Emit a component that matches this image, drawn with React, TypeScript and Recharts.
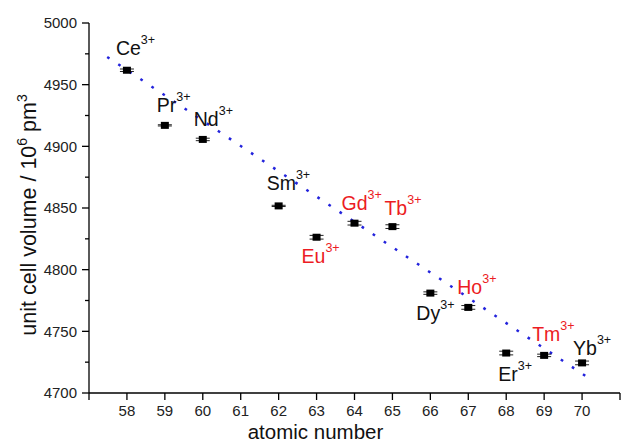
import React from "react";
import { ComposedChart, XAxis, YAxis, Scatter, Line, ErrorBar, Label } from "recharts";

// ---- data ----
const atomicNumbers = [58, 59, 60, 62, 63, 64, 65, 66, 67, 68, 69, 70];
const ions = ["Ce", "Pr", "Nd", "Sm", "Eu", "Gd", "Tb", "Dy", "Ho", "Er", "Tm", "Yb"];
const volumes = [4961.7, 4917.0, 4905.6, 4851.7, 4826.3, 4837.7, 4834.9, 4781.0, 4769.4, 4732.4, 4730.5, 4724.4];
const volumeErrors = [1.0, 0.5, 1.0, 0.5, 1.5, 1.5, 1.5, 1.0, 1.5, 1.5, 1.0, 1.5];
const fitAtomic = [57.48, 70.17];
const fitVolume = [4972.5, 4712.2];
const xTicks = [57, 58, 59, 60, 61, 62, 63, 64, 65, 66, 67, 68, 69, 70, 71];
const yTicks = [4700, 4725, 4750, 4775, 4800, 4825, 4850, 4875, 4900, 4925, 4950, 4975, 5000];
const redIons = ["Eu", "Gd", "Tb", "Ho", "Tm"];

// ---- label placement (layout only) ----
const labelOffsets: Record<string, [number, number]> = {
  Ce: [-11, -15],
  Pr: [-8, -13],
  Nd: [-9, -13],
  Sm: [-12, -16],
  Eu: [-15, 26],
  Gd: [-13, -13],
  Tb: [-8, -12],
  Dy: [-14, 27],
  Ho: [-11, -13],
  Er: [-8, 28],
  Tm: [-12, -14],
  Yb: [-9, -8],
};

const pointData = atomicNumbers.map((a, i) => ({
  atomic: a,
  volume: volumes[i],
  error: volumeErrors[i],
  ion: ions[i],
}));
const fitData = fitAtomic.map((a, i) => ({ atomic: a, volume: fitVolume[i] }));

const FONT = "'Liberation Sans', Arial, sans-serif";
const TICK_SIZE = 7;
const TICK_MARGIN = 5;

const YTick = (props: any) => {
  const { x, y, payload } = props;
  const v = payload.value;
  const major = v % 50 === 0;
  const axisX = x + TICK_SIZE + TICK_MARGIN;
  const len = major ? 7 : 4;
  return (
    <g>
      <line x1={axisX - len} x2={axisX} y1={y} y2={y} stroke="#000" strokeWidth={1.3} />
      {major && (
        <text x={x} y={y} dy="0.355em" textAnchor="end" fontSize={15} fill="#222" fontFamily={FONT}>
          {v}
        </text>
      )}
    </g>
  );
};

const PointShape = (props: any) => {
  const { cx, cy, payload } = props;
  if (cx == null || cy == null) return null;
  const ion = payload.ion as string;
  const [dx, dy] = labelOffsets[ion] || [0, 0];
  const color = redIons.includes(ion) ? "#ec1c24" : "#111";
  return (
    <g>
      <rect x={cx - 4} y={cy - 3.5} width={8} height={7} fill="#000" />
      <text x={cx + dx} y={cy + dy} fontSize={19.5} fill={color} fontFamily={FONT}>
        {ion}
        <tspan dy={-11} fontSize={12.5}>3+</tspan>
      </text>
    </g>
  );
};

const XTitle = (props: any) => {
  const vb = props.viewBox || { x: 89, y: 393, width: 531, height: 30 };
  return (
    <text x={vb.x + 226.5} y={vb.y + 46} textAnchor="middle" fontSize={20.5} fill="#111" fontFamily={FONT}>
      atomic number
    </text>
  );
};

const YTitle = (props: any) => {
  const vb = props.viewBox || { x: 29, y: 23, width: 60, height: 370 };
  const cx = vb.x + 7;
  const cy = vb.y + vb.height / 2 + 7;
  return (
    <text
      x={cx}
      y={cy}
      textAnchor="middle"
      fontSize={21.5}
      fill="#111"
      fontFamily={FONT}
      transform={`rotate(-90, ${cx}, ${cy})`}
    >
      unit cell volume / 10
      <tspan dy={-9} fontSize={14}>6</tspan>
      <tspan dy={9}> pm</tspan>
      <tspan dy={-9} fontSize={14}>3</tspan>
    </text>
  );
};

export default function App() {
  return (
    <div style={{ position: "absolute", left: 0, top: 0, width: 621, height: 442, background: "#fff", fontFamily: FONT }}>
      <ComposedChart width={621} height={442} margin={{ top: 23, right: 1, bottom: 19, left: 29 }}>
        <XAxis
          type="number"
          dataKey="atomic"
          domain={[57, 71]}
          ticks={xTicks}
          interval={0}
          allowDataOverflow
          height={30}
          tickSize={TICK_SIZE}
          tickMargin={TICK_MARGIN}
          axisLine={{ stroke: "#000", strokeWidth: 1.3 }}
          tickLine={{ stroke: "#000", strokeWidth: 1.3 }}
          tick={{ fontSize: 15, fill: "#222", fontFamily: FONT }}
          tickFormatter={(v: number) => (v === 57 || v === 71 ? "" : String(v))}
        >
          <Label content={XTitle} />
        </XAxis>
        <YAxis
          type="number"
          domain={[4700, 5000]}
          ticks={yTicks}
          interval={0}
          allowDataOverflow
          width={60}
          tickSize={TICK_SIZE}
          tickMargin={TICK_MARGIN}
          axisLine={{ stroke: "#000", strokeWidth: 1.3 }}
          tickLine={false}
          tick={<YTick />}
        >
          <Label content={YTitle} />
        </YAxis>
        <Line
          data={fitData}
          dataKey="volume"
          stroke="#2323dc"
          strokeWidth={2.5}
          strokeDasharray="2.7 10.6"
          dot={false}
          activeDot={false}
          isAnimationActive={false}
        />
        <Scatter data={pointData} dataKey="volume" shape={PointShape} isAnimationActive={false}>
          <ErrorBar dataKey="error" direction="y" width={7} stroke="#222" strokeWidth={1} />
        </Scatter>
      </ComposedChart>
    </div>
  );
}
